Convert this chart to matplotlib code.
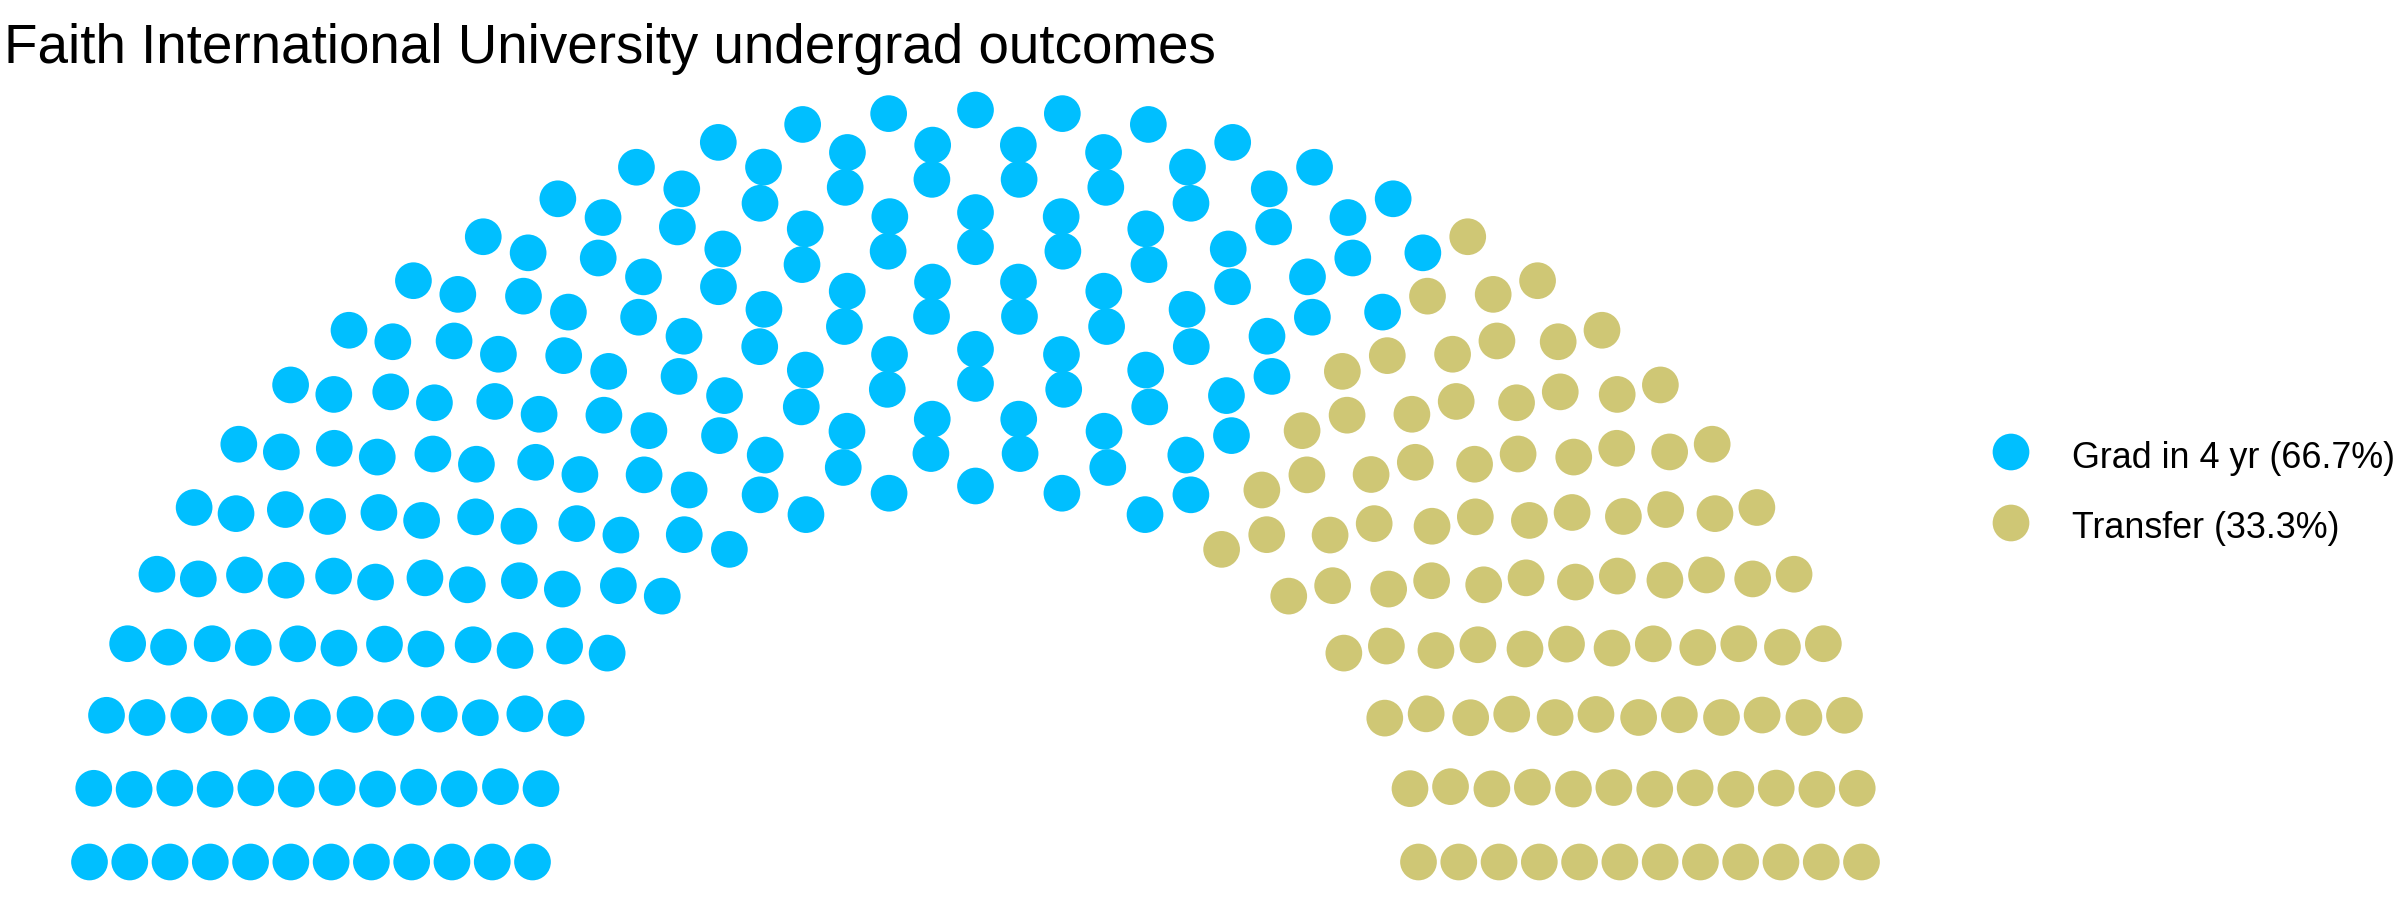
import numpy as np
import matplotlib
matplotlib.use("Agg")
import matplotlib.pyplot as plt

# ---- data ----
title = "Faith International University undergrad outcomes"
parties = ["Grad in 4 yr (66.7%)", "Transfer (33.3%)"]
seats = [200, 100]
colors = ["#00BFFF", "#CFC775"]
n_rows = 12

# ---- semicircle parliament layout (ggparliament style) ----
def parliament(N, M):
    radii = np.linspace(1, 2, M)
    xs, ys, rows, thetas = [], [], [], []
    remaining = N
    for i in range(M):
        cnt = int(round(remaining * radii[i] / radii[i:].sum()))
        th = np.linspace(0, np.pi, cnt)
        remaining -= cnt
        xs.append(radii[i] * np.cos(th))
        ys.append(radii[i] * np.sin(th))
        rows.append(np.full(cnt, i))
        thetas.append(th)
    x = np.concatenate(xs); y = np.concatenate(ys)
    r = np.concatenate(rows); t = np.concatenate(thetas)
    order = np.lexsort((-r, -np.round(t, 10)))
    return x[order], y[order]

px, py = parliament(sum(seats), n_rows)
party_idx = np.repeat(np.arange(len(seats)), seats)

W, H = 2400, 900
fig = plt.figure(figsize=(24, 9), dpi=100)
fig.patch.set_facecolor("white")

cx, cy = 975.5, 862.0
sx, sy = 443.0, 376.0
xl = (-2.2, 2.2)
yl = (-0.1, 2.1)
left = (cx + sx * xl[0]) / W
width = sx * (xl[1] - xl[0]) / W
bottom = (H - (cy - sy * yl[0])) / H
height = sy * (yl[1] - yl[0]) / H
ax = fig.add_axes([left, bottom, width, height])
ax.set_xlim(*xl)
ax.set_ylim(*yl)
ax.axis("off")

ms = (36.7 * 72 / 100) ** 2
for k, (lab, col) in enumerate(zip(parties, colors)):
    m = party_idx == k
    ax.scatter(px[m], py[m], s=ms, color=col, edgecolors="none", clip_on=False, label=lab)

fam = ["Liberation Sans", "DejaVu Sans"]
fig.text(4 / W, 1 - 63 / H, title, fontsize=39.4, family=fam, va="baseline", ha="left")

# legend (manual placement)
lax = fig.add_axes([0, 0, 1, 1])
lax.set_xlim(0, W)
lax.set_ylim(H, 0)
lax.axis("off")
lax.patch.set_alpha(0)
leg_y = [452, 523]
for lab, col, yy in zip(parties, colors, leg_y):
    lax.scatter([2011], [yy], s=ms, color=col, edgecolors="none")
    lax.text(2072, yy + 2, lab, fontsize=25.8, family=fam, va="center_baseline", ha="left")

fig.savefig("out.png", dpi=100, facecolor="white")
